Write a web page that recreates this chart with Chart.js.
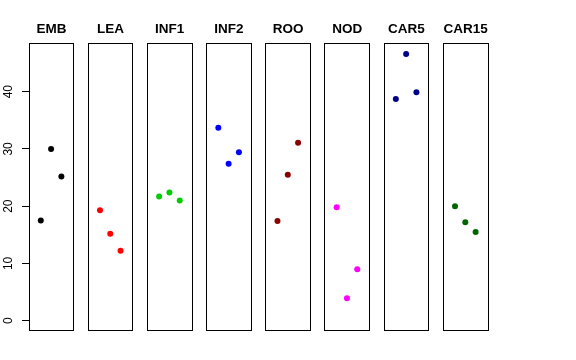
<!DOCTYPE html>
<html><head><meta charset="utf-8">
<script src="https://cdn.jsdelivr.net/npm/chart.js@4/dist/chart.umd.min.js"></script>
<style>html,body{margin:0;padding:0;background:#fff}#wrap{position:relative;width:576px;height:360px}</style>
</head><body><div id="wrap"><canvas id="c" width="576" height="360"></canvas></div>
<script>
// ---- data ----
const categories = ['EMB', 'LEA', 'INF1', 'INF2', 'ROO', 'NOD', 'CAR5', 'CAR15'];
const embValues   = [17.5, 30.0, 25.2];
const leaValues   = [19.3, 15.2, 12.2];
const inf1Values  = [21.7, 22.4, 21.0];
const inf2Values  = [33.7, 27.4, 29.4];
const rooValues   = [17.4, 25.5, 31.1];
const nodValues   = [19.8, 3.9, 9.0];
const car5Values  = [38.7, 46.6, 39.9];
const car15Values = [20.0, 17.2, 15.5];
const seriesValues = [embValues, leaValues, inf1Values, inf2Values, rooValues, nodValues, car5Values, car15Values];
const seriesColors = ['#000000', '#FF0000', '#00CD00', '#0000FF', '#8B0000', '#FF00FF', '#00008B', '#006400'];
const yTickValues = [0, 10, 20, 30, 40];

// ---- layout in x-scale units ----
const PANEL_STEP = 59.2, PANEL_W = 44.8;
const PT_OFFSET = 11.8, PT_STEP = 10.3;
const X_MAX = 7 * PANEL_STEP + PANEL_W;
const FONT = "'Liberation Sans', Arial, Helvetica, sans-serif";

const datasets = seriesValues.map((vals, i) => ({
  label: categories[i],
  data: vals.map((v, j) => ({ x: i * PANEL_STEP + PT_OFFSET + j * PT_STEP, y: v })),
  backgroundColor: seriesColors[i],
  borderColor: seriesColors[i],
  pointRadius: 3,
  pointBorderWidth: 0,
  pointHoverRadius: 3,
  showLine: false
}));

const panelBoxes = {
  id: 'panelBoxes',
  afterDraw(chart) {
    const { ctx, chartArea, scales } = chart;
    const xs = scales.x;
    ctx.save();
    ctx.strokeStyle = '#000';
    ctx.lineWidth = 1;
    const top = Math.floor(chartArea.top) + 0.5;
    const bot = Math.floor(chartArea.bottom) - 0.5;
    categories.forEach((c, i) => {
      const l = Math.floor(xs.getPixelForValue(i * PANEL_STEP)) + 0.5;
      const r = Math.floor(xs.getPixelForValue(i * PANEL_STEP + PANEL_W)) + 0.5;
      ctx.strokeRect(l, top, r - l, bot - top);
    });
    ctx.restore();
  }
};

new Chart(document.getElementById('c'), {
  type: 'scatter',
  data: { datasets },
  plugins: [panelBoxes],
  options: {
    responsive: false,
    devicePixelRatio: 1,
    animation: false,
    events: [],
    layout: { padding: { left: 0, right: 88, top: 0, bottom: 29 } },
    plugins: { legend: { display: false }, tooltip: { enabled: false }, title: { display: false } },
    scales: {
      x: {
        type: 'linear',
        position: 'top',
        min: 0,
        max: X_MAX,
        afterBuildTicks: s => { s.ticks = categories.map((c, i) => ({ value: i * PANEL_STEP + PANEL_W / 2 })); },
        afterFit: s => { s.height = 43; },
        ticks: {
          callback: (v, idx) => categories[idx],
          autoSkip: false, maxRotation: 0, minRotation: 0,
          padding: 6,
          color: '#000',
          font: { family: FONT, size: 13.5, weight: 'bold' }
        },
        grid: { display: false, drawTicks: false },
        border: { display: false }
      },
      y: {
        type: 'linear',
        min: -1.8,
        max: 48.5,
        afterBuildTicks: s => { s.ticks = yTickValues.map(v => ({ value: v })); },
        afterFit: s => { s.width = 29; },
        ticks: {
          minRotation: 90, maxRotation: 90,
          crossAlign: 'center',
          padding: 7,
          color: '#000',
          font: { family: FONT, size: 12 }
        },
        grid: { drawOnChartArea: false, drawTicks: true, tickLength: 7, color: '#000', lineWidth: 1 },
        border: { display: false }
      }
    }
  }
});
</script></body></html>
